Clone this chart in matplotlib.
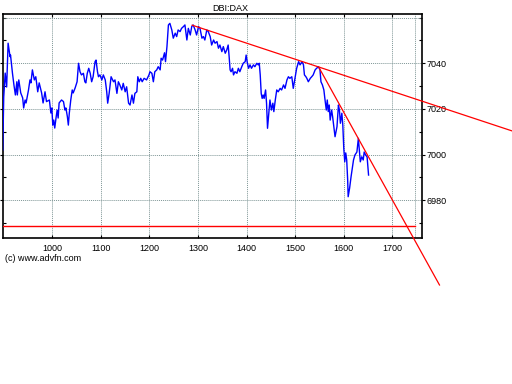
import matplotlib
matplotlib.use('Agg')
import matplotlib.pyplot as plt
from matplotlib.ticker import MultipleLocator

plt.rcParams['font.family'] = ['Liberation Sans', 'DejaVu Sans']

# price series (bar index, price)
idx = [898, 900, 903, 906, 909, 913, 914, 918, 921, 924, 927, 928, 931, 935, 939, 941,
       944, 946, 951, 954, 956, 959, 963, 966, 970, 973, 978, 981, 985, 988, 994, 997,
       999, 1001, 1003, 1005, 1008, 1010, 1012, 1014, 1019, 1023, 1026, 1028, 1031, 1033,
       1035, 1038, 1041, 1043, 1047, 1051, 1054, 1057, 1060, 1064, 1067, 1069, 1072, 1075,
       1078, 1081, 1084, 1088, 1090, 1093, 1095, 1098, 1102, 1105, 1109, 1112, 1114, 1117,
       1121, 1126, 1129, 1133, 1136, 1139, 1143, 1146, 1150, 1153, 1157, 1160, 1164, 1167,
       1170, 1174, 1176, 1179, 1182, 1185, 1189, 1194, 1199, 1201, 1205, 1208, 1211, 1215,
       1218, 1222, 1224, 1227, 1231, 1233, 1236, 1239, 1242, 1246, 1249, 1253, 1256, 1259,
       1263, 1266, 1270, 1273, 1277, 1280, 1284, 1287, 1290, 1294, 1297, 1301, 1304, 1308,
       1311, 1314, 1318, 1321, 1325, 1328, 1332, 1335, 1339, 1342, 1345, 1349, 1352, 1356,
       1359, 1362, 1364, 1366, 1368, 1371, 1373, 1376, 1380, 1383, 1386, 1390, 1393, 1397,
       1399, 1401, 1404, 1407, 1410, 1414, 1417, 1421, 1424, 1426, 1428, 1430, 1432, 1434,
       1436, 1439, 1441, 1443, 1446, 1448, 1451, 1454, 1456, 1459, 1462, 1465, 1469, 1472,
       1476, 1479, 1483, 1486, 1489, 1493, 1496, 1500, 1503, 1507, 1510, 1514, 1517, 1519,
       1522, 1524, 1527, 1531, 1534, 1537, 1541, 1544, 1548, 1551, 1553, 1556, 1559, 1561,
       1564, 1566, 1568, 1570, 1572, 1575, 1577, 1580, 1582, 1586, 1589, 1591, 1593, 1596,
       1598, 1600, 1602, 1604, 1606, 1608, 1609, 1612, 1615, 1617, 1620, 1623, 1627, 1630,
       1632, 1634, 1637, 1640, 1642, 1645, 1648, 1651]
price = [7002.0, 7025.2, 7035.7, 7029.6, 7048.8, 7042.9, 7043.6, 7035.6, 7030.5, 7026.1,
         7031.9, 7026.1, 7032.7, 7027.0, 7024.8, 7020.4, 7023.9, 7022.6, 7028.3, 7032.7,
         7031.4, 7037.1, 7032.7, 7034.1, 7027.5, 7031.4, 7027.0, 7022.6, 7027.5, 7023.2,
         7023.9, 7018.2, 7020.4, 7012.9, 7015.1, 7011.6, 7016.6, 7019.5, 7016.0, 7022.6,
         7023.9, 7023.2, 7019.5, 7020.4, 7016.6, 7012.9, 7018.2, 7023.9, 7028.3, 7027.0,
         7029.2, 7031.9, 7040.0, 7036.3, 7034.9, 7035.6, 7031.9, 7031.4, 7035.6, 7037.8,
         7035.6, 7031.9, 7034.1, 7040.7, 7041.4, 7036.3, 7034.1, 7034.9, 7032.7, 7034.9,
         7032.7, 7027.5, 7022.5, 7026.8, 7034.1, 7031.9, 7032.7, 7026.8, 7031.9, 7030.5,
         7028.3, 7031.2, 7027.5, 7029.7, 7022.5, 7021.7, 7026.1, 7022.5, 7026.8, 7027.5,
         7034.1, 7031.9, 7033.4, 7031.9, 7033.4, 7032.7, 7034.9, 7036.3, 7035.6, 7031.9,
         7036.3, 7037.1, 7038.5, 7037.1, 7042.2, 7041.4, 7044.6, 7040.7, 7047.3, 7056.8,
         7057.5, 7054.6, 7051.0, 7053.2, 7051.7, 7054.6, 7053.9, 7055.3, 7056.1, 7056.8,
         7050.2, 7055.3, 7052.4, 7056.1, 7056.8, 7054.6, 7052.4, 7056.1, 7055.3, 7051.0,
         7051.7, 7050.2, 7054.6, 7053.9, 7051.7, 7048.0, 7050.2, 7048.8, 7049.5, 7046.6,
         7048.0, 7045.1, 7047.3, 7044.4, 7045.8, 7048.0, 7042.9, 7037.1, 7036.3, 7037.8,
         7034.9, 7036.3, 7035.6, 7037.8, 7036.3, 7038.5, 7040.0, 7040.7, 7043.6, 7040.7,
         7037.8, 7039.3, 7037.8, 7039.3, 7038.5, 7040.0, 7039.3, 7040.0, 7034.9, 7026.8,
         7024.6, 7026.1, 7024.6, 7028.3, 7022.5, 7011.5, 7018.8, 7023.9, 7019.5, 7022.5,
         7018.8, 7023.9, 7028.3, 7027.5, 7029.0, 7028.3, 7030.5, 7029.0, 7032.7, 7034.1,
         7033.4, 7034.1, 7029.0, 7034.1, 7037.8, 7040.7, 7039.3, 7040.7, 7039.3, 7034.9,
         7034.1, 7033.4, 7031.9, 7033.4, 7034.1, 7034.9, 7037.1, 7037.8, 7038.5, 7037.1,
         7031.9, 7030.5, 7028.3, 7024.6, 7019.5, 7023.9, 7018.8, 7021.7, 7015.1, 7019.5,
         7016.6, 7011.5, 7007.8, 7012.2, 7021.7, 7019.5, 7013.7, 7018.1, 7012.9, 7002.7,
         6996.8, 7000.7, 6997.6, 6988.8, 6981.5, 6985.3, 6990.3, 6993.2, 6997.6, 6999.8,
         7001.1, 7007.1, 7002.0, 6996.8, 6999.0, 6997.6, 7001.1, 6999.8, 6998.9, 6991.0]

# labelled ticks
xticks = [1000, 1100, 1200, 1300, 1400, 1500, 1600, 1700]
yticks = [6980, 7000, 7020, 7040]

# drawn lines (start/end points in data units)
trend1_x = [1288, 1947]
trend1_y = [7056.7, 7010.3]
trend2_x = [1549, 1797]
trend2_y = [7038.1, 6942.8]
support_y = 6968.5
support_end = 1747

grid_kw = dict(color='#7f9696', linestyle=(0, (1, 1)), lw=0.7)

fig = plt.figure(figsize=(5.12, 3.84), dpi=100)
ax = fig.add_axes([3 / 512, 1 - 238 / 384, 419 / 512, 224 / 384])

ax.plot(idx, price, color='#0000ff', lw=1.0, zorder=3)
ax.plot([898, support_end], [support_y, support_y], color='red', lw=1.0, zorder=4)
ax.plot(trend1_x, trend1_y, color='red', lw=0.9, clip_on=False, zorder=4)
ax.plot(trend2_x, trend2_y, color='red', lw=0.9, clip_on=False, zorder=4)

ax.set_xlim(898.5, 1761)
ax.set_ylim(6963.4, 7061.6)
ax.set_xticks(xticks)
ax.set_yticks(yticks)
ax.yaxis.set_minor_locator(MultipleLocator(10))
ax.yaxis.tick_right()

ax.grid(True, which='major', **grid_kw)
ax.axvline(1746, **grid_kw)
ax.axhline(7060, **grid_kw)

ax.tick_params(axis='y', which='major', direction='out', length=2, width=0.8,
               labelsize=6.5, pad=1, right=True, left=True)
ax.tick_params(axis='y', which='minor', direction='in', length=2, width=0.8,
               right=True, left=True)
ax.tick_params(axis='x', which='major', direction='in', length=2, width=0.8,
               labelsize=6.5, pad=4, top=True)
for s in ax.spines.values():
    s.set_linewidth(1.2)

fig.text(230.5 / 512, 1 - 8.5 / 384, 'DBI:DAX', ha='center', va='center', fontsize=6.5)
fig.text(5 / 512, 1 - 258.5 / 384, '(c) www.advfn.com', ha='left', va='center', fontsize=6.5)

fig.savefig('out.png', dpi=100)
